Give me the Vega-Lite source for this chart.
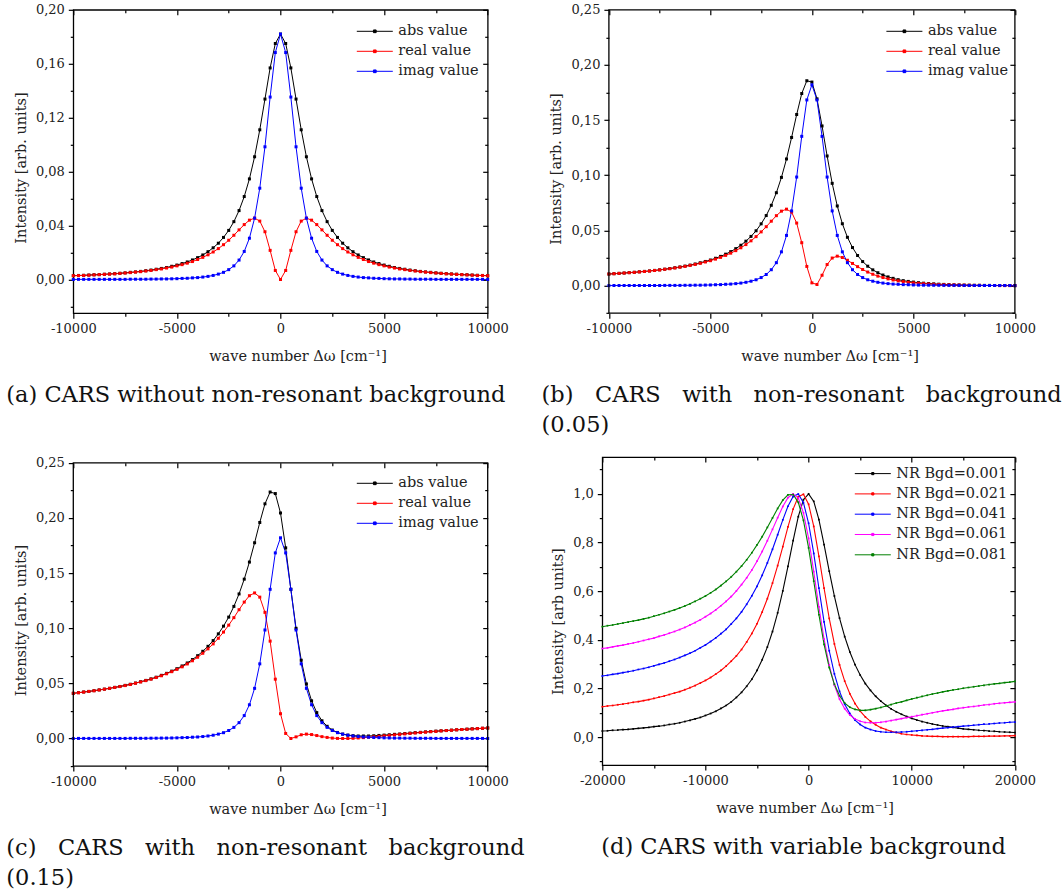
{
  "$schema": "https://vega.github.io/schema/vega-lite/v6.json",
  "padding": {"left": 5.3, "top": 2.8, "right": 0, "bottom": 0},
  "background": "white",
  "config": {
    "font": "DejaVu Serif",
    "view": {"stroke": "#000000", "strokeWidth": 1.3},
    "axis": {"domain": false, "grid": false, "labelFont": "DejaVu Serif", "labelFontSize": 13, "labelColor": "#222222", "titleFont": "DejaVu Serif", "titleFontSize": 14.5, "titleFontWeight": "normal", "titleColor": "#222222", "tickColor": "#000000", "tickWidth": 1.2, "labelFlush": false, "labelOverlap": false, "labelPadding": 4},
    "title": {"font": "DejaVu Serif", "fontSize": 22.5, "fontWeight": "normal", "color": "#111111", "lineHeight": 30}
  },
  "datasets": {
    "a": [
      {"x":-10000,"abs":0.0028,"real":0.0028,"imag":0},
      {"x":-9750,"abs":0.0030,"real":0.0029,"imag":0.0001},
      {"x":-9500,"abs":0.0031,"real":0.0030,"imag":0.0001},
      {"x":-9250,"abs":0.0033,"real":0.0032,"imag":0.0001},
      {"x":-9000,"abs":0.0035,"real":0.0034,"imag":0.0001},
      {"x":-8750,"abs":0.0036,"real":0.0036,"imag":0.0001},
      {"x":-8500,"abs":0.0039,"real":0.0038,"imag":0.0001},
      {"x":-8250,"abs":0.0041,"real":0.0040,"imag":0.0001},
      {"x":-8000,"abs":0.0043,"real":0.0042,"imag":0.0001},
      {"x":-7750,"abs":0.0046,"real":0.0045,"imag":0.0001},
      {"x":-7500,"abs":0.0049,"real":0.0048,"imag":0.0001},
      {"x":-7250,"abs":0.0053,"real":0.0051,"imag":0.0002},
      {"x":-7000,"abs":0.0056,"real":0.0055,"imag":0.0002},
      {"x":-6750,"abs":0.0060,"real":0.0058,"imag":0.0002},
      {"x":-6500,"abs":0.0065,"real":0.0063,"imag":0.0002},
      {"x":-6250,"abs":0.0070,"real":0.0067,"imag":0.0003},
      {"x":-6000,"abs":0.0076,"real":0.0073,"imag":0.0003},
      {"x":-5750,"abs":0.0082,"real":0.0078,"imag":0.0004},
      {"x":-5500,"abs":0.0089,"real":0.0085,"imag":0.0004},
      {"x":-5250,"abs":0.0098,"real":0.0092,"imag":0.0005},
      {"x":-5000,"abs":0.0107,"real":0.0101,"imag":0.0006},
      {"x":-4750,"abs":0.0118,"real":0.0110,"imag":0.0008},
      {"x":-4500,"abs":0.0130,"real":0.0121,"imag":0.0009},
      {"x":-4250,"abs":0.0145,"real":0.0133,"imag":0.0012},
      {"x":-4000,"abs":0.0162,"real":0.0148,"imag":0.0014},
      {"x":-3750,"abs":0.0182,"real":0.0164,"imag":0.0018},
      {"x":-3500,"abs":0.0206,"real":0.0183,"imag":0.0023},
      {"x":-3250,"abs":0.0235,"real":0.0204,"imag":0.0030},
      {"x":-3000,"abs":0.0269,"real":0.0229,"imag":0.0040},
      {"x":-2750,"abs":0.0312,"real":0.0258,"imag":0.0053},
      {"x":-2500,"abs":0.0364,"real":0.0291,"imag":0.0073},
      {"x":-2250,"abs":0.0429,"real":0.0328,"imag":0.0101},
      {"x":-2000,"abs":0.0511,"real":0.0368,"imag":0.0144},
      {"x":-1750,"abs":0.0615,"real":0.0407,"imag":0.0208},
      {"x":-1500,"abs":0.0746,"real":0.0440,"imag":0.0306},
      {"x":-1250,"abs":0.0910,"real":0.0455,"imag":0.0455},
      {"x":-1000,"abs":0.1110,"real":0.0433,"imag":0.0677},
      {"x":-750,"abs":0.1338,"real":0.0354,"imag":0.0984},
      {"x":-500,"abs":0.1569,"real":0.0216,"imag":0.1353},
      {"x":-250,"abs":0.1750,"real":0.0067,"imag":0.1683},
      {"x":0,"abs":0.1820,"real":0,"imag":0.1820},
      {"x":250,"abs":0.1750,"real":0.0067,"imag":0.1683},
      {"x":500,"abs":0.1569,"real":0.0216,"imag":0.1353},
      {"x":750,"abs":0.1338,"real":0.0354,"imag":0.0984},
      {"x":1000,"abs":0.1110,"real":0.0433,"imag":0.0677},
      {"x":1250,"abs":0.0910,"real":0.0455,"imag":0.0455},
      {"x":1500,"abs":0.0746,"real":0.0440,"imag":0.0306},
      {"x":1750,"abs":0.0615,"real":0.0407,"imag":0.0208},
      {"x":2000,"abs":0.0511,"real":0.0368,"imag":0.0144},
      {"x":2250,"abs":0.0429,"real":0.0328,"imag":0.0101},
      {"x":2500,"abs":0.0364,"real":0.0291,"imag":0.0073},
      {"x":2750,"abs":0.0312,"real":0.0258,"imag":0.0053},
      {"x":3000,"abs":0.0269,"real":0.0229,"imag":0.0040},
      {"x":3250,"abs":0.0235,"real":0.0204,"imag":0.0030},
      {"x":3500,"abs":0.0206,"real":0.0183,"imag":0.0023},
      {"x":3750,"abs":0.0182,"real":0.0164,"imag":0.0018},
      {"x":4000,"abs":0.0162,"real":0.0148,"imag":0.0014},
      {"x":4250,"abs":0.0145,"real":0.0133,"imag":0.0012},
      {"x":4500,"abs":0.0130,"real":0.0121,"imag":0.0009},
      {"x":4750,"abs":0.0118,"real":0.0110,"imag":0.0008},
      {"x":5000,"abs":0.0107,"real":0.0101,"imag":0.0006},
      {"x":5250,"abs":0.0098,"real":0.0092,"imag":0.0005},
      {"x":5500,"abs":0.0089,"real":0.0085,"imag":0.0004},
      {"x":5750,"abs":0.0082,"real":0.0078,"imag":0.0004},
      {"x":6000,"abs":0.0076,"real":0.0073,"imag":0.0003},
      {"x":6250,"abs":0.0070,"real":0.0067,"imag":0.0003},
      {"x":6500,"abs":0.0065,"real":0.0063,"imag":0.0002},
      {"x":6750,"abs":0.0060,"real":0.0058,"imag":0.0002},
      {"x":7000,"abs":0.0056,"real":0.0055,"imag":0.0002},
      {"x":7250,"abs":0.0053,"real":0.0051,"imag":0.0002},
      {"x":7500,"abs":0.0049,"real":0.0048,"imag":0.0001},
      {"x":7750,"abs":0.0046,"real":0.0045,"imag":0.0001},
      {"x":8000,"abs":0.0043,"real":0.0042,"imag":0.0001},
      {"x":8250,"abs":0.0041,"real":0.0040,"imag":0.0001},
      {"x":8500,"abs":0.0039,"real":0.0038,"imag":0.0001},
      {"x":8750,"abs":0.0036,"real":0.0036,"imag":0.0001},
      {"x":9000,"abs":0.0035,"real":0.0034,"imag":0.0001},
      {"x":9250,"abs":0.0033,"real":0.0032,"imag":0.0001},
      {"x":9500,"abs":0.0031,"real":0.0030,"imag":0.0001},
      {"x":9750,"abs":0.0030,"real":0.0029,"imag":0.0001},
      {"x":10000,"abs":0.0028,"real":0.0028,"imag":0}
    ],
    "b": [
      {"x":-10000,"abs":0.0105,"real":0.0105,"imag":0},
      {"x":-9750,"abs":0.0108,"real":0.0108,"imag":0.0001},
      {"x":-9500,"abs":0.0111,"real":0.0111,"imag":0.0001},
      {"x":-9250,"abs":0.0114,"real":0.0114,"imag":0.0001},
      {"x":-9000,"abs":0.0118,"real":0.0117,"imag":0.0001},
      {"x":-8750,"abs":0.0121,"real":0.0120,"imag":0.0001},
      {"x":-8500,"abs":0.0125,"real":0.0124,"imag":0.0001},
      {"x":-8250,"abs":0.0129,"real":0.0128,"imag":0.0001},
      {"x":-8000,"abs":0.0133,"real":0.0132,"imag":0.0001},
      {"x":-7750,"abs":0.0138,"real":0.0137,"imag":0.0001},
      {"x":-7500,"abs":0.0143,"real":0.0142,"imag":0.0001},
      {"x":-7250,"abs":0.0149,"real":0.0148,"imag":0.0002},
      {"x":-7000,"abs":0.0155,"real":0.0153,"imag":0.0002},
      {"x":-6750,"abs":0.0162,"real":0.0160,"imag":0.0002},
      {"x":-6500,"abs":0.0169,"real":0.0167,"imag":0.0002},
      {"x":-6250,"abs":0.0177,"real":0.0174,"imag":0.0003},
      {"x":-6000,"abs":0.0186,"real":0.0183,"imag":0.0003},
      {"x":-5750,"abs":0.0196,"real":0.0192,"imag":0.0004},
      {"x":-5500,"abs":0.0207,"real":0.0202,"imag":0.0004},
      {"x":-5250,"abs":0.0219,"real":0.0214,"imag":0.0005},
      {"x":-5000,"abs":0.0232,"real":0.0226,"imag":0.0006},
      {"x":-4750,"abs":0.0248,"real":0.0240,"imag":0.0008},
      {"x":-4500,"abs":0.0265,"real":0.0256,"imag":0.0009},
      {"x":-4250,"abs":0.0285,"real":0.0274,"imag":0.0012},
      {"x":-4000,"abs":0.0308,"real":0.0294,"imag":0.0014},
      {"x":-3750,"abs":0.0335,"real":0.0317,"imag":0.0018},
      {"x":-3500,"abs":0.0366,"real":0.0343,"imag":0.0023},
      {"x":-3250,"abs":0.0403,"real":0.0372,"imag":0.0030},
      {"x":-3000,"abs":0.0446,"real":0.0406,"imag":0.0040},
      {"x":-2750,"abs":0.0497,"real":0.0444,"imag":0.0053},
      {"x":-2500,"abs":0.0560,"real":0.0487,"imag":0.0073},
      {"x":-2250,"abs":0.0635,"real":0.0534,"imag":0.0101},
      {"x":-2000,"abs":0.0728,"real":0.0584,"imag":0.0144},
      {"x":-1750,"abs":0.0842,"real":0.0634,"imag":0.0208},
      {"x":-1500,"abs":0.0981,"real":0.0675,"imag":0.0306},
      {"x":-1250,"abs":0.1148,"real":0.0693,"imag":0.0455},
      {"x":-1000,"abs":0.1343,"real":0.0666,"imag":0.0677},
      {"x":-750,"abs":0.1551,"real":0.0567,"imag":0.0984},
      {"x":-500,"abs":0.1741,"real":0.0389,"imag":0.1353},
      {"x":-250,"abs":0.1857,"real":0.0174,"imag":0.1683},
      {"x":0,"abs":0.1845,"real":0.0025,"imag":0.1820},
      {"x":250,"abs":0.1693,"real":0.0010,"imag":0.1683},
      {"x":500,"abs":0.1447,"real":0.0094,"imag":0.1353},
      {"x":750,"abs":0.1175,"real":0.0191,"imag":0.0984},
      {"x":1000,"abs":0.0927,"real":0.0250,"imag":0.0677},
      {"x":1250,"abs":0.0722,"real":0.0267,"imag":0.0455},
      {"x":1500,"abs":0.0561,"real":0.0255,"imag":0.0306},
      {"x":1750,"abs":0.0438,"real":0.0230,"imag":0.0208},
      {"x":2000,"abs":0.0345,"real":0.0201,"imag":0.0144},
      {"x":2250,"abs":0.0273,"real":0.0172,"imag":0.0101},
      {"x":2500,"abs":0.0218,"real":0.0146,"imag":0.0073},
      {"x":2750,"abs":0.0176,"real":0.0123,"imag":0.0053},
      {"x":3000,"abs":0.0143,"real":0.0103,"imag":0.0040},
      {"x":3250,"abs":0.0117,"real":0.0086,"imag":0.0030},
      {"x":3500,"abs":0.0096,"real":0.0073,"imag":0.0023},
      {"x":3750,"abs":0.0079,"real":0.0061,"imag":0.0018},
      {"x":4000,"abs":0.0066,"real":0.0051,"imag":0.0014},
      {"x":4250,"abs":0.0054,"real":0.0043,"imag":0.0012},
      {"x":4500,"abs":0.0045,"real":0.0036,"imag":0.0009},
      {"x":4750,"abs":0.0038,"real":0.0030,"imag":0.0008},
      {"x":5000,"abs":0.0032,"real":0.0025,"imag":0.0006},
      {"x":5250,"abs":0.0027,"real":0.0021,"imag":0.0005},
      {"x":5500,"abs":0.0022,"real":0.0018,"imag":0.0004},
      {"x":5750,"abs":0.0019,"real":0.0015,"imag":0.0004},
      {"x":6000,"abs":0.0016,"real":0.0012,"imag":0.0003},
      {"x":6250,"abs":0.0013,"real":0.0010,"imag":0.0003},
      {"x":6500,"abs":0.0011,"real":0.0008,"imag":0.0002},
      {"x":6750,"abs":0.0009,"real":0.0007,"imag":0.0002},
      {"x":7000,"abs":0.0007,"real":0.0006,"imag":0.0002},
      {"x":7250,"abs":0.0006,"real":0.0005,"imag":0.0002},
      {"x":7500,"abs":0.0005,"real":0.0004,"imag":0.0001},
      {"x":7750,"abs":0.0004,"real":0.0003,"imag":0.0001},
      {"x":8000,"abs":0.0003,"real":0.0002,"imag":0.0001},
      {"x":8250,"abs":0.0003,"real":0.0002,"imag":0.0001},
      {"x":8500,"abs":0.0002,"real":0.0001,"imag":0.0001},
      {"x":8750,"abs":0.0002,"real":0.0001,"imag":0.0001},
      {"x":9000,"abs":0.0001,"real":0.0001,"imag":0.0001},
      {"x":9250,"abs":0.0001,"real":0,"imag":0.0001},
      {"x":9500,"abs":0.0001,"real":0,"imag":0.0001},
      {"x":9750,"abs":0.0001,"real":0,"imag":0.0001},
      {"x":10000,"abs":0,"real":0,"imag":0}
    ],
    "c": [
      {"x":-10000,"abs":0.0410,"real":0.0410,"imag":0},
      {"x":-9750,"abs":0.0416,"real":0.0415,"imag":0.0001},
      {"x":-9500,"abs":0.0422,"real":0.0421,"imag":0.0001},
      {"x":-9250,"abs":0.0427,"real":0.0427,"imag":0.0001},
      {"x":-9000,"abs":0.0434,"real":0.0433,"imag":0.0001},
      {"x":-8750,"abs":0.0441,"real":0.0440,"imag":0.0001},
      {"x":-8500,"abs":0.0448,"real":0.0447,"imag":0.0001},
      {"x":-8250,"abs":0.0455,"real":0.0455,"imag":0.0001},
      {"x":-8000,"abs":0.0464,"real":0.0463,"imag":0.0001},
      {"x":-7750,"abs":0.0472,"real":0.0471,"imag":0.0001},
      {"x":-7500,"abs":0.0482,"real":0.0480,"imag":0.0001},
      {"x":-7250,"abs":0.0492,"real":0.0490,"imag":0.0002},
      {"x":-7000,"abs":0.0503,"real":0.0501,"imag":0.0002},
      {"x":-6750,"abs":0.0515,"real":0.0513,"imag":0.0002},
      {"x":-6500,"abs":0.0527,"real":0.0525,"imag":0.0002},
      {"x":-6250,"abs":0.0541,"real":0.0538,"imag":0.0003},
      {"x":-6000,"abs":0.0556,"real":0.0553,"imag":0.0003},
      {"x":-5750,"abs":0.0573,"real":0.0569,"imag":0.0004},
      {"x":-5500,"abs":0.0591,"real":0.0587,"imag":0.0004},
      {"x":-5250,"abs":0.0611,"real":0.0606,"imag":0.0005},
      {"x":-5000,"abs":0.0633,"real":0.0627,"imag":0.0006},
      {"x":-4750,"abs":0.0658,"real":0.0650,"imag":0.0008},
      {"x":-4500,"abs":0.0685,"real":0.0676,"imag":0.0009},
      {"x":-4250,"abs":0.0716,"real":0.0705,"imag":0.0012},
      {"x":-4000,"abs":0.0751,"real":0.0737,"imag":0.0014},
      {"x":-3750,"abs":0.0791,"real":0.0773,"imag":0.0018},
      {"x":-3500,"abs":0.0836,"real":0.0813,"imag":0.0023},
      {"x":-3250,"abs":0.0888,"real":0.0858,"imag":0.0030},
      {"x":-3000,"abs":0.0949,"real":0.0909,"imag":0.0040},
      {"x":-2750,"abs":0.1019,"real":0.0965,"imag":0.0053},
      {"x":-2500,"abs":0.1101,"real":0.1028,"imag":0.0073},
      {"x":-2250,"abs":0.1198,"real":0.1096,"imag":0.0101},
      {"x":-2000,"abs":0.1311,"real":0.1168,"imag":0.0144},
      {"x":-1750,"abs":0.1445,"real":0.1237,"imag":0.0208},
      {"x":-1500,"abs":0.1600,"real":0.1295,"imag":0.0306},
      {"x":-1250,"abs":0.1775,"real":0.1320,"imag":0.0455},
      {"x":-1000,"abs":0.1959,"real":0.1282,"imag":0.0677},
      {"x":-750,"abs":0.2128,"real":0.1144,"imag":0.0984},
      {"x":-500,"abs":0.2235,"real":0.0883,"imag":0.1353},
      {"x":-250,"abs":0.2221,"real":0.0538,"imag":0.1683},
      {"x":0,"abs":0.2045,"real":0.0225,"imag":0.1820},
      {"x":250,"abs":0.1729,"real":0.0046,"imag":0.1683},
      {"x":500,"abs":0.1353,"real":0,"imag":0.1353},
      {"x":750,"abs":0.0999,"real":0.0015,"imag":0.0984},
      {"x":1000,"abs":0.0710,"real":0.0034,"imag":0.0677},
      {"x":1250,"abs":0.0495,"real":0.0040,"imag":0.0455},
      {"x":1500,"abs":0.0342,"real":0.0036,"imag":0.0306},
      {"x":1750,"abs":0.0235,"real":0.0027,"imag":0.0208},
      {"x":2000,"abs":0.0161,"real":0.0017,"imag":0.0144},
      {"x":2250,"abs":0.0111,"real":0.0010,"imag":0.0101},
      {"x":2500,"abs":0.0077,"real":0.0004,"imag":0.0073},
      {"x":2750,"abs":0.0055,"real":0.0001,"imag":0.0053},
      {"x":3000,"abs":0.0040,"real":0,"imag":0.0040},
      {"x":3250,"abs":0.0031,"real":0,"imag":0.0030},
      {"x":3500,"abs":0.0026,"real":0.0002,"imag":0.0023},
      {"x":3750,"abs":0.0023,"real":0.0005,"imag":0.0018},
      {"x":4000,"abs":0.0023,"real":0.0008,"imag":0.0014},
      {"x":4250,"abs":0.0023,"real":0.0012,"imag":0.0012},
      {"x":4500,"abs":0.0025,"real":0.0016,"imag":0.0009},
      {"x":4750,"abs":0.0028,"real":0.0020,"imag":0.0008},
      {"x":5000,"abs":0.0031,"real":0.0025,"imag":0.0006},
      {"x":5250,"abs":0.0034,"real":0.0029,"imag":0.0005},
      {"x":5500,"abs":0.0038,"real":0.0033,"imag":0.0004},
      {"x":5750,"abs":0.0041,"real":0.0038,"imag":0.0004},
      {"x":6000,"abs":0.0045,"real":0.0042,"imag":0.0003},
      {"x":6250,"abs":0.0049,"real":0.0046,"imag":0.0003},
      {"x":6500,"abs":0.0053,"real":0.0050,"imag":0.0002},
      {"x":6750,"abs":0.0056,"real":0.0054,"imag":0.0002},
      {"x":7000,"abs":0.0060,"real":0.0058,"imag":0.0002},
      {"x":7250,"abs":0.0063,"real":0.0062,"imag":0.0002},
      {"x":7500,"abs":0.0067,"real":0.0065,"imag":0.0001},
      {"x":7750,"abs":0.0070,"real":0.0069,"imag":0.0001},
      {"x":8000,"abs":0.0073,"real":0.0072,"imag":0.0001},
      {"x":8250,"abs":0.0076,"real":0.0075,"imag":0.0001},
      {"x":8500,"abs":0.0079,"real":0.0079,"imag":0.0001},
      {"x":8750,"abs":0.0082,"real":0.0082,"imag":0.0001},
      {"x":9000,"abs":0.0085,"real":0.0084,"imag":0.0001},
      {"x":9250,"abs":0.0088,"real":0.0087,"imag":0.0001},
      {"x":9500,"abs":0.0090,"real":0.0090,"imag":0.0001},
      {"x":9750,"abs":0.0093,"real":0.0093,"imag":0.0001},
      {"x":10000,"abs":0.0096,"real":0.0095,"imag":0}
    ],
    "d": [
      {"x":-20000,"b001":0.025,"b021":0.125,"b041":0.251,"b061":0.364,"b081":0.454},
      {"x":-19500,"b001":0.026,"b021":0.128,"b041":0.254,"b061":0.367,"b081":0.458},
      {"x":-19000,"b001":0.028,"b021":0.130,"b041":0.258,"b061":0.371,"b081":0.461},
      {"x":-18500,"b001":0.029,"b021":0.133,"b041":0.261,"b061":0.375,"b081":0.465},
      {"x":-18000,"b001":0.031,"b021":0.136,"b041":0.265,"b061":0.378,"b081":0.469},
      {"x":-17500,"b001":0.032,"b021":0.139,"b041":0.269,"b061":0.383,"b081":0.473},
      {"x":-17000,"b001":0.034,"b021":0.143,"b041":0.273,"b061":0.387,"b081":0.477},
      {"x":-16500,"b001":0.036,"b021":0.146,"b041":0.278,"b061":0.392,"b081":0.481},
      {"x":-16000,"b001":0.038,"b021":0.150,"b041":0.282,"b061":0.397,"b081":0.486},
      {"x":-15500,"b001":0.040,"b021":0.154,"b041":0.287,"b061":0.402,"b081":0.491},
      {"x":-15000,"b001":0.043,"b021":0.159,"b041":0.293,"b061":0.407,"b081":0.497},
      {"x":-14500,"b001":0.045,"b021":0.164,"b041":0.299,"b061":0.414,"b081":0.503},
      {"x":-14000,"b001":0.048,"b021":0.169,"b041":0.305,"b061":0.420,"b081":0.509},
      {"x":-13500,"b001":0.052,"b021":0.175,"b041":0.312,"b061":0.427,"b081":0.516},
      {"x":-13000,"b001":0.055,"b021":0.181,"b041":0.319,"b061":0.434,"b081":0.523},
      {"x":-12500,"b001":0.059,"b021":0.187,"b041":0.327,"b061":0.442,"b081":0.531},
      {"x":-12000,"b001":0.064,"b021":0.195,"b041":0.336,"b061":0.451,"b081":0.539},
      {"x":-11500,"b001":0.069,"b021":0.203,"b041":0.345,"b061":0.461,"b081":0.548},
      {"x":-11000,"b001":0.075,"b021":0.212,"b041":0.355,"b061":0.471,"b081":0.558},
      {"x":-10500,"b001":0.081,"b021":0.222,"b041":0.367,"b061":0.482,"b081":0.569},
      {"x":-10000,"b001":0.089,"b021":0.233,"b041":0.379,"b061":0.495,"b081":0.580},
      {"x":-9500,"b001":0.097,"b021":0.245,"b041":0.393,"b061":0.508,"b081":0.593},
      {"x":-9000,"b001":0.106,"b021":0.259,"b041":0.408,"b061":0.523,"b081":0.607},
      {"x":-8500,"b001":0.118,"b021":0.274,"b041":0.425,"b061":0.540,"b081":0.623},
      {"x":-8000,"b001":0.130,"b021":0.292,"b041":0.443,"b061":0.558,"b081":0.640},
      {"x":-7500,"b001":0.145,"b021":0.312,"b041":0.465,"b061":0.578,"b081":0.659},
      {"x":-7000,"b001":0.163,"b021":0.334,"b041":0.488,"b061":0.601,"b081":0.680},
      {"x":-6500,"b001":0.184,"b021":0.360,"b041":0.515,"b061":0.627,"b081":0.703},
      {"x":-6000,"b001":0.209,"b021":0.391,"b041":0.546,"b061":0.655,"b081":0.729},
      {"x":-5500,"b001":0.238,"b021":0.426,"b041":0.581,"b061":0.687,"b081":0.758},
      {"x":-5000,"b001":0.274,"b021":0.466,"b041":0.620,"b061":0.723,"b081":0.790},
      {"x":-4500,"b001":0.318,"b021":0.514,"b041":0.665,"b061":0.763,"b081":0.824},
      {"x":-4000,"b001":0.370,"b021":0.569,"b041":0.716,"b061":0.807,"b081":0.862},
      {"x":-3500,"b001":0.434,"b021":0.633,"b041":0.772,"b061":0.854,"b081":0.901},
      {"x":-3000,"b001":0.511,"b021":0.705,"b041":0.832,"b061":0.902,"b081":0.940},
      {"x":-2500,"b001":0.601,"b021":0.783,"b041":0.893,"b061":0.948,"b081":0.974},
      {"x":-2000,"b001":0.702,"b021":0.864,"b041":0.949,"b061":0.984,"b081":0.996},
      {"x":-1500,"b001":0.808,"b021":0.937,"b041":0.989,"b061":1.000,"b081":0.997},
      {"x":-1000,"b001":0.906,"b021":0.988,"b041":0.999,"b061":0.983,"b081":0.965},
      {"x":-500,"b001":0.976,"b021":0.998,"b041":0.964,"b061":0.922,"b081":0.891},
      {"x":0,"b001":1.000,"b021":0.957,"b041":0.879,"b061":0.817,"b081":0.778},
      {"x":500,"b001":0.969,"b021":0.866,"b041":0.755,"b061":0.680,"b081":0.641},
      {"x":1000,"b001":0.894,"b021":0.743,"b041":0.612,"b061":0.535,"b081":0.503},
      {"x":1500,"b001":0.791,"b021":0.612,"b041":0.474,"b061":0.403,"b081":0.381},
      {"x":2000,"b001":0.682,"b021":0.488,"b041":0.355,"b061":0.296,"b081":0.286},
      {"x":2500,"b001":0.580,"b021":0.383,"b041":0.260,"b061":0.214,"b081":0.217},
      {"x":3000,"b001":0.489,"b021":0.297,"b041":0.188,"b061":0.156,"b081":0.170},
      {"x":3500,"b001":0.413,"b021":0.230,"b041":0.135,"b061":0.117,"b081":0.140},
      {"x":4000,"b001":0.350,"b021":0.178,"b041":0.097,"b061":0.091,"b081":0.123},
      {"x":4500,"b001":0.298,"b021":0.138,"b041":0.070,"b061":0.075,"b081":0.114},
      {"x":5000,"b001":0.255,"b021":0.107,"b041":0.052,"b061":0.065,"b081":0.110},
      {"x":5500,"b001":0.220,"b021":0.083,"b041":0.039,"b061":0.060,"b081":0.110},
      {"x":6000,"b001":0.192,"b021":0.065,"b041":0.031,"b061":0.059,"b081":0.113},
      {"x":6500,"b001":0.168,"b021":0.051,"b041":0.025,"b061":0.059,"b081":0.117},
      {"x":7000,"b001":0.148,"b021":0.039,"b041":0.022,"b061":0.061,"b081":0.122},
      {"x":7500,"b001":0.131,"b021":0.031,"b041":0.020,"b061":0.064,"b081":0.128},
      {"x":8000,"b001":0.116,"b021":0.024,"b041":0.020,"b061":0.068,"b081":0.134},
      {"x":8500,"b001":0.104,"b021":0.019,"b041":0.020,"b061":0.072,"b081":0.140},
      {"x":9000,"b001":0.094,"b021":0.014,"b041":0.021,"b061":0.076,"b081":0.145},
      {"x":9500,"b001":0.085,"b021":0.011,"b041":0.022,"b061":0.080,"b081":0.151},
      {"x":10000,"b001":0.077,"b021":0.009,"b041":0.024,"b061":0.084,"b081":0.157},
      {"x":10500,"b001":0.070,"b021":0.007,"b041":0.026,"b061":0.088,"b081":0.162},
      {"x":11000,"b001":0.064,"b021":0.005,"b041":0.028,"b061":0.092,"b081":0.167},
      {"x":11500,"b001":0.059,"b021":0.004,"b041":0.030,"b061":0.096,"b081":0.172},
      {"x":12000,"b001":0.054,"b021":0.003,"b041":0.032,"b061":0.100,"b081":0.177},
      {"x":12500,"b001":0.050,"b021":0.003,"b041":0.035,"b061":0.104,"b081":0.181},
      {"x":13000,"b001":0.046,"b021":0.002,"b041":0.037,"b061":0.108,"b081":0.186},
      {"x":13500,"b001":0.043,"b021":0.002,"b041":0.039,"b061":0.111,"b081":0.190},
      {"x":14000,"b001":0.040,"b021":0.002,"b041":0.041,"b061":0.114,"b081":0.194},
      {"x":14500,"b001":0.037,"b021":0.002,"b041":0.043,"b061":0.118,"b081":0.197},
      {"x":15000,"b001":0.034,"b021":0.002,"b041":0.045,"b061":0.121,"b081":0.201},
      {"x":15500,"b001":0.032,"b021":0.002,"b041":0.047,"b061":0.124,"b081":0.204},
      {"x":16000,"b001":0.030,"b021":0.003,"b041":0.049,"b061":0.126,"b081":0.207},
      {"x":16500,"b001":0.028,"b021":0.003,"b041":0.051,"b061":0.129,"b081":0.210},
      {"x":17000,"b001":0.027,"b021":0.003,"b041":0.053,"b061":0.132,"b081":0.213},
      {"x":17500,"b001":0.025,"b021":0.004,"b041":0.054,"b061":0.134,"b081":0.216},
      {"x":18000,"b001":0.024,"b021":0.004,"b041":0.056,"b061":0.137,"b081":0.219},
      {"x":18500,"b001":0.022,"b021":0.004,"b041":0.058,"b061":0.139,"b081":0.221},
      {"x":19000,"b001":0.021,"b021":0.005,"b041":0.059,"b061":0.141,"b081":0.224},
      {"x":19500,"b001":0.020,"b021":0.005,"b041":0.061,"b061":0.143,"b081":0.226},
      {"x":20000,"b001":0.019,"b021":0.006,"b041":0.062,"b061":0.145,"b081":0.229}
    ]
  },
  "concat": [
    {
      "width": 414.4, "height": 303.4,
      "data": {"name": "a"},
      "transform": [{"fold": ["abs", "real", "imag"], "as": ["s", "v"]}],
      "title": {"text": "(a) CARS without non-resonant background", "orient": "bottom", "anchor": "start", "frame": "group", "dx": -67, "offset": 21},
      "layer": [
        {
          "mark": {"type": "line", "strokeWidth": 1, "point": {"shape": "square", "size": 9, "filled": true}},
          "encoding": {
            "x": {"field": "x", "type": "quantitative", "scale": {"domain": [-10000, 10000], "nice": false, "zero": false},
              "axis": {"orient": "bottom", "values": [-10000, -7500, -5000, -2500, 0, 2500, 5000, 7500, 10000], "labelExpr": "datum.value % 5000 === 0 ? '' + datum.value : ''", "tickSize": {"condition": {"test": "datum.value % 5000 === 0", "value": 5}, "value": 3}, "title": "wave number Δω [cm⁻¹]", "titlePadding": 14, "titleX": 224.2}},
            "y": {"field": "v", "type": "quantitative", "scale": {"domain": [-0.025, 0.2], "nice": false, "zero": false},
              "axis": {"orient": "left", "values": [-0.02, 0, 0.02, 0.04, 0.06, 0.08, 0.1, 0.12, 0.14, 0.16, 0.18, 0.2], "labelExpr": "abs(round(datum.value*100)) % 4 === 0 ? replace(format(datum.value, '.2f'), '.', ',') : ''", "tickSize": {"condition": {"test": "abs(round(datum.value*100)) % 4 === 0", "value": 5}, "value": 3}, "title": "Intensity [arb. units]", "titlePadding": 7, "titleY": 157.7}},
            "color": {"field": "s", "type": "nominal", "scale": {"domain": ["abs", "real", "imag"], "range": ["#000000", "#ff0000", "#0000ff"]},
              "legend": {"title": null, "orient": "none", "legendX": 292, "legendY": 12, "symbolType": "M-2,0H2M-0.15,-0.15H0.15V0.15H-0.15Z", "symbolSize": 324, "symbolStrokeWidth": 1, "labelFontSize": 14.5, "labelFont": "DejaVu Serif", "labelColor": "#222222", "labelOffset": 14, "rowPadding": 4, "padding": 0, "labelExpr": "datum.label + ' value'"}}
          }
        },
        {
          "mark": {"type": "point", "opacity": 0},
          "encoding": {
            "x": {"field": "x", "type": "quantitative", "axis": {"orient": "top", "values": [-10000, -7500, -5000, -2500, 0, 2500, 5000, 7500, 10000], "labels": false, "title": null, "tickSize": {"condition": {"test": "datum.value % 5000 === 0", "value": -5}, "value": -3}}},
            "y": {"field": "v", "type": "quantitative", "axis": {"orient": "right", "values": [-0.02, 0, 0.02, 0.04, 0.06, 0.08, 0.1, 0.12, 0.14, 0.16, 0.18, 0.2], "labels": false, "title": null, "tickSize": {"condition": {"test": "abs(round(datum.value*100)) % 4 === 0", "value": -5}, "value": -3}}}
          }
        }
      ],
      "resolve": {"axis": {"x": "independent", "y": "independent"}}
    },
    {"width": 114, "height": 1, "view": {"stroke": null}, "data": {"values": [{}]}, "mark": {"type": "point", "opacity": 0}, "encoding": {}},
    {
      "width": 412.6, "height": 303.4,
      "view": {"stroke": null},
      "data": {"name": "b"},
      "transform": [{"fold": ["abs", "real", "imag"], "as": ["s", "v"]}],
      "title": {"text": ["(b)\u00a0\u00a0\u00a0CARS\u00a0\u00a0\u00a0with\u00a0\u00a0\u00a0non-resonant\u00a0\u00a0\u00a0background", "(0.05)"], "orient": "bottom", "anchor": "start", "frame": "group", "dx": -60.7, "offset": 21},
      "layer": [
        {
          "mark": {"type": "line", "strokeWidth": 1, "point": {"shape": "square", "size": 9, "filled": true}},
          "encoding": {
            "x": {"field": "x", "type": "quantitative", "scale": {"domain": [-10325.1, 10000], "nice": false, "zero": false},
              "axis": {"orient": "bottom", "values": [-10000, -7500, -5000, -2500, 0, 2500, 5000, 7500, 10000], "labelExpr": "datum.value % 5000 === 0 ? '' + datum.value : ''", "tickSize": {"condition": {"test": "datum.value % 5000 === 0", "value": 5}, "value": 3}, "title": "wave number Δω [cm⁻¹]", "titlePadding": 14, "titleX": 227.3}},
            "y": {"field": "v", "type": "quantitative", "scale": {"domain": [-0.025, 0.25], "nice": false, "zero": false},
              "axis": {"orient": "left", "offset": -6.6, "values": [-0.025, 0, 0.025, 0.05, 0.075, 0.1, 0.125, 0.15, 0.175, 0.2, 0.225, 0.25], "labelExpr": "abs(round(datum.value*1000)) % 50 === 0 ? replace(format(datum.value, '.2f'), '.', ',') : ''", "tickSize": {"condition": {"test": "abs(round(datum.value*1000)) % 50 === 0", "value": 5}, "value": 3}, "title": "Intensity [arb. units]", "titlePadding": 7, "titleY": 158.7}},
            "color": {"field": "s", "type": "nominal", "scale": {"domain": ["abs", "real", "imag"], "range": ["#000000", "#ff0000", "#0000ff"]},
              "legend": {"title": null, "orient": "none", "legendX": 292.6, "legendY": 12, "symbolType": "M-2,0H2M-0.15,-0.15H0.15V0.15H-0.15Z", "symbolSize": 324, "symbolStrokeWidth": 1, "labelFontSize": 14.5, "labelFont": "DejaVu Serif", "labelColor": "#222222", "labelOffset": 14, "rowPadding": 4, "padding": 0, "labelExpr": "datum.label + ' value'"}}
          }
        },
        {
          "mark": {"type": "point", "opacity": 0},
          "encoding": {
            "x": {"field": "x", "type": "quantitative", "axis": {"orient": "top", "values": [-10000, -7500, -5000, -2500, 0, 2500, 5000, 7500, 10000], "labels": false, "title": null, "tickSize": {"condition": {"test": "datum.value % 5000 === 0", "value": -5}, "value": -3}}},
            "y": {"field": "v", "type": "quantitative", "axis": {"orient": "right", "values": [-0.025, 0, 0.025, 0.05, 0.075, 0.1, 0.125, 0.15, 0.175, 0.2, 0.225, 0.25], "labels": false, "title": null, "tickSize": {"condition": {"test": "abs(round(datum.value*1000)) % 50 === 0", "value": -5}, "value": -3}}}
          }
        },
        {
          "data": {"values": [{}]},
          "mark": {"type": "rect", "fill": null, "stroke": "#000000", "strokeWidth": 1.3},
          "encoding": {"x": {"datum": -10000, "type": "quantitative", "axis": null}, "x2": {"datum": 10000}, "y": {"datum": -0.025, "type": "quantitative", "axis": null}, "y2": {"datum": 0.25}}
        }
      ],
      "resolve": {"axis": {"x": "independent", "y": "independent"}}
    },
    {
      "width": 414.4, "height": 309,
      "view": {"stroke": null},
      "data": {"name": "c"},
      "transform": [{"fold": ["abs", "real", "imag"], "as": ["s", "v"]}],
      "title": {"text": ["(c)\u00a0\u00a0\u00a0CARS\u00a0\u00a0\u00a0with\u00a0\u00a0\u00a0non-resonant\u00a0\u00a0\u00a0background", "(0.15)"], "orient": "bottom", "anchor": "start", "frame": "group", "dx": -67, "offset": 21},
      "layer": [
        {
          "mark": {"type": "line", "strokeWidth": 1, "point": {"shape": "square", "size": 9, "filled": true}},
          "encoding": {
            "x": {"field": "x", "type": "quantitative", "scale": {"domain": [-10000, 10000], "nice": false, "zero": false},
              "axis": {"orient": "bottom", "values": [-10000, -7500, -5000, -2500, 0, 2500, 5000, 7500, 10000], "labelExpr": "datum.value % 5000 === 0 ? '' + datum.value : ''", "tickSize": {"condition": {"test": "datum.value % 5000 === 0", "value": 5}, "value": 3}, "title": "wave number Δω [cm⁻¹]", "titlePadding": 14, "titleX": 224.2}},
            "y": {"field": "v", "type": "quantitative", "scale": {"domain": [-0.025, 0.255168], "nice": false, "zero": false},
              "axis": {"orient": "left", "values": [-0.025, 0, 0.025, 0.05, 0.075, 0.1, 0.125, 0.15, 0.175, 0.2, 0.225, 0.25], "labelExpr": "abs(round(datum.value*1000)) % 50 === 0 ? replace(format(datum.value, '.2f'), '.', ',') : ''", "tickSize": {"condition": {"test": "abs(round(datum.value*1000)) % 50 === 0", "value": 5}, "value": 3}, "title": "Intensity [arb. units]", "titlePadding": 7, "titleY": 163}},
            "color": {"field": "s", "type": "nominal", "scale": {"domain": ["abs", "real", "imag"], "range": ["#000000", "#ff0000", "#0000ff"]},
              "legend": {"title": null, "orient": "none", "legendX": 292, "legendY": 16.7, "symbolType": "M-2,0H2M-0.15,-0.15H0.15V0.15H-0.15Z", "symbolSize": 324, "symbolStrokeWidth": 1, "labelFontSize": 14.5, "labelFont": "DejaVu Serif", "labelColor": "#222222", "labelOffset": 14, "rowPadding": 4, "padding": 0, "labelExpr": "datum.label + ' value'"}}
          }
        },
        {
          "mark": {"type": "point", "opacity": 0},
          "encoding": {
            "x": {"field": "x", "type": "quantitative", "axis": {"orient": "top", "offset": -5.7, "values": [-10000, -7500, -5000, -2500, 0, 2500, 5000, 7500, 10000], "labels": false, "title": null, "tickSize": {"condition": {"test": "datum.value % 5000 === 0", "value": -5}, "value": -3}}},
            "y": {"field": "v", "type": "quantitative", "axis": {"orient": "right", "values": [-0.025, 0, 0.025, 0.05, 0.075, 0.1, 0.125, 0.15, 0.175, 0.2, 0.225, 0.25], "labels": false, "title": null, "tickSize": {"condition": {"test": "abs(round(datum.value*1000)) % 50 === 0", "value": -5}, "value": -3}}}
          }
        },
        {
          "data": {"values": [{}]},
          "mark": {"type": "rect", "fill": null, "stroke": "#000000", "strokeWidth": 1.3},
          "encoding": {"x": {"datum": -10000, "type": "quantitative", "axis": null}, "x2": {"datum": 10000}, "y": {"datum": -0.025, "type": "quantitative", "axis": null}, "y2": {"datum": 0.25}}
        }
      ],
      "resolve": {"axis": {"x": "independent", "y": "independent"}}
    },
    {"width": 114, "height": 1, "view": {"stroke": null}, "data": {"values": [{}]}, "mark": {"type": "point", "opacity": 0}, "encoding": {}},
    {
      "width": 412.6, "height": 308,
      "data": {"name": "d"},
      "transform": [{"fold": ["b001", "b021", "b041", "b061", "b081"], "as": ["s", "v"]}],
      "title": {"text": "(d) CARS with variable background", "orient": "bottom", "anchor": "middle", "frame": "group", "dx": -5, "offset": 21},
      "layer": [
        {
          "mark": {"type": "line", "strokeWidth": 1.1, "point": {"shape": "square", "size": 3, "filled": true}},
          "encoding": {
            "x": {"field": "x", "type": "quantitative", "scale": {"domain": [-20000, 20000], "nice": false, "zero": false},
              "axis": {"orient": "bottom", "values": [-20000, -15000, -10000, -5000, 0, 5000, 10000, 15000, 20000], "labelExpr": "datum.value % 10000 === 0 ? '' + datum.value : ''", "tickSize": {"condition": {"test": "datum.value % 10000 === 0", "value": 5}, "value": 3}, "title": "wave number Δω [cm⁻¹]", "titlePadding": 14, "titleX": 202.3}},
            "y": {"field": "v", "type": "quantitative", "scale": {"domain": [-0.115, 1.151], "nice": false, "zero": false},
              "axis": {"orient": "left", "values": [-0.1, 0, 0.1, 0.2, 0.3, 0.4, 0.5, 0.6, 0.7, 0.8, 0.9, 1, 1.1], "labelExpr": "abs(round(datum.value*10)) % 2 === 0 ? replace(format(datum.value, '.1f'), '.', ',') : ''", "tickSize": {"condition": {"test": "abs(round(datum.value*10)) % 2 === 0", "value": 5}, "value": 3}, "title": "Intensity [arb units]", "titlePadding": 7, "titleY": 164}},
            "color": {"field": "s", "type": "nominal", "scale": {"domain": ["b001", "b021", "b041", "b061", "b081"], "range": ["#000000", "#ff0000", "#0000ff", "#ff00ff", "#008000"]},
              "legend": {"title": null, "orient": "none", "legendX": 261, "legendY": 7, "symbolType": "M-2,0H2M-0.12,-0.12H0.12V0.12H-0.12Z", "symbolSize": 324, "symbolStrokeWidth": 1, "labelFontSize": 14.5, "labelFont": "DejaVu Serif", "labelColor": "#222222", "labelOffset": 14, "rowPadding": 4.3, "padding": 0, "labelExpr": "'NR Bgd=0.' + substring(datum.label, 1)"}}
          }
        },
        {
          "mark": {"type": "point", "opacity": 0},
          "encoding": {
            "x": {"field": "x", "type": "quantitative", "axis": {"orient": "top", "values": [-20000, -15000, -10000, -5000, 0, 5000, 10000, 15000, 20000], "labels": false, "title": null, "tickSize": {"condition": {"test": "datum.value % 10000 === 0", "value": -5}, "value": -3}}},
            "y": {"field": "v", "type": "quantitative", "axis": {"orient": "right", "values": [-0.1, 0, 0.1, 0.2, 0.3, 0.4, 0.5, 0.6, 0.7, 0.8, 0.9, 1, 1.1], "labels": false, "title": null, "tickSize": {"condition": {"test": "abs(round(datum.value*10)) % 2 === 0", "value": -5}, "value": -3}}}
          }
        }
      ],
      "resolve": {"axis": {"x": "independent", "y": "independent"}}
    }
  ],
  "columns": 3,
  "bounds": "flush",
  "spacing": {"row": 143.3, "column": 0},
  "resolve": {"scale": {"color": "independent"}, "legend": {"color": "independent"}}
}
